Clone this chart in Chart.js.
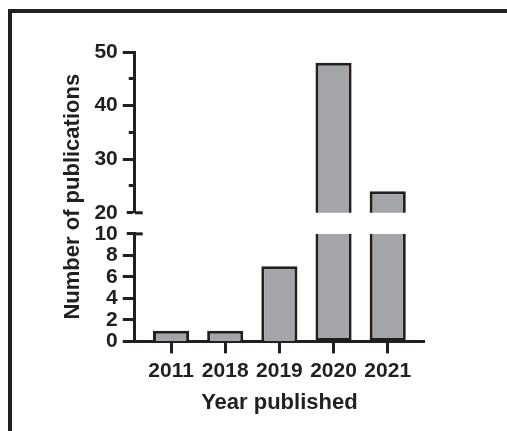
<!DOCTYPE html>
<html>
<head>
<meta charset="utf-8">
<script src="https://cdn.jsdelivr.net/npm/chart.js@4.4.0/dist/chart.umd.min.js"></script>
<style>
  html, body { margin: 0; padding: 0; background: #fff; }
  #frame { position: absolute; left: 8px; top: 9px; right: 0; bottom: 0; border-left: 4px solid #231f20; border-top: 4px solid #231f20; }
  #myChart { position: absolute; left: 0; top: 0; width: 507px; height: 431px; }
</style>
</head>
<body>
<div id="frame"></div>
<canvas id="myChart" width="507" height="431"></canvas>
<script>
const years = ['2011', '2018', '2019', '2020', '2021']
const counts = [1, 1, 7, 48, 24]
const lowRange = [0, 10]
const highRange = [20, 50]

const ink = '#231f20'
const barFill = '#a3a5a8'
const tickFont = { family: "'Liberation Sans', Arial, sans-serif", size: 21, weight: 'bold' }
const titleFont = { family: "'Liberation Sans', Arial, sans-serif", size: 22, weight: 'bold' }

// lower panel shows values up to the break, upper panel only what is above it
const lowData = counts.map((v, i) => ({ x: i, y: Math.min(v, lowRange[1]) }))
const highData = counts.map((v, i) => ({ x: i, y: v > highRange[0] ? v : null }))

// little caps at the axis break
const breakCaps = {
    id: 'breakCaps',
    afterDraw(chart) {
        const { ctx, scales } = chart
        const marks = [[scales.yHigh, highRange[0]], [scales.yLow, lowRange[1]]]
        ctx.save()
        ctx.strokeStyle = ink
        ctx.lineWidth = 3
        marks.forEach(([s, v]) => {
            const y = s.getPixelForValue(v)
            ctx.beginPath()
            ctx.moveTo(s.right, y)
            ctx.lineTo(s.right + 8, y)
            ctx.stroke()
        })
        ctx.restore()
    }
}

// tick marks are stroked from the outer end, so the gap comes first
const yGrid = (capValue, isMinor) => ({
    drawOnChartArea: false,
    drawTicks: true,
    tickLength: 12,
    tickWidth: 3,
    tickColor: ink,
    tickBorderDash: (c) => {
        const v = c.tick ? c.tick.value : 0
        if (v === capValue) return [0, 4, 8, 40]
        if (isMinor(v)) return [0, 6, 6, 40]
        return []
    }
})

const barDataset = (data, axis, skip) => ({
    data: data,
    yAxisID: axis,
    backgroundColor: barFill,
    borderColor: ink,
    borderWidth: 3,
    borderSkipped: skip,
    grouped: false,
    categoryPercentage: 1,
    barPercentage: 0.667
})

const chart = new Chart(document.getElementById('myChart'), {
    type: 'bar',
    data: {
        datasets: [
            barDataset(lowData, 'yLow', (c) => counts[c.dataIndex] > lowRange[1] ? 'end' : 'start'),
            barDataset(highData, 'yHigh', 'start')
        ]
    },
    plugins: [breakCaps],
    options: {
        responsive: false,
        animation: false,
        layout: {
            padding: { left: 56, right: 83, top: 52, bottom: 11 }
        },
        plugins: {
            legend: { display: false },
            tooltip: { enabled: false }
        },
        scales: {
            x: {
                type: 'linear',
                offset: false,
                min: -0.67,
                max: 4.67,
                ticks: {
                    stepSize: 1,
                    includeBounds: false,
                    color: ink,
                    font: tickFont,
                    padding: 5,
                    maxRotation: 0,
                    autoSkip: false,
                    callback: (v) => years[v]
                },
                grid: { offset: false, drawOnChartArea: false, tickLength: 12, tickWidth: 3, tickColor: ink },
                border: { color: ink, width: 3 },
                title: { display: true, text: 'Year published', color: ink, font: titleFont, padding: { top: 1, bottom: 4 } }
            },
            yLow: {
                type: 'linear',
                position: 'left',
                stack: 'yAxis',
                stackWeight: 107,
                min: lowRange[0],
                max: lowRange[1],
                ticks: {
                    stepSize: 2,
                    autoSkip: false,
                    color: ink,
                    font: tickFont,
                    padding: 5
                },
                grid: yGrid(lowRange[1], () => false),
                border: { color: ink, width: 3 }
            },
            yGap: {
                type: 'linear',
                position: 'left',
                stack: 'yAxis',
                stackWeight: 21,
                ticks: { display: false },
                grid: { display: false, drawTicks: false },
                border: { display: false }
            },
            yHigh: {
                type: 'linear',
                position: 'left',
                stack: 'yAxis',
                stackWeight: 160,
                min: highRange[0],
                max: highRange[1],
                ticks: {
                    stepSize: 5,
                    autoSkip: false,
                    color: ink,
                    font: tickFont,
                    padding: 5,
                    callback: (v) => v % 10 === 0 ? v : ''
                },
                grid: yGrid(highRange[0], (v) => v % 10 !== 0),
                border: { color: ink, width: 3 }
            },
            yTitle: {
                type: 'linear',
                position: 'left',
                weight: 10,
                ticks: { display: false },
                grid: { display: false, drawTicks: false },
                border: { display: false },
                title: { display: true, text: 'Number of publications', color: ink, font: titleFont, padding: { top: 4, bottom: 3 } }
            }
        }
    }
})
</script>
</body>
</html>
